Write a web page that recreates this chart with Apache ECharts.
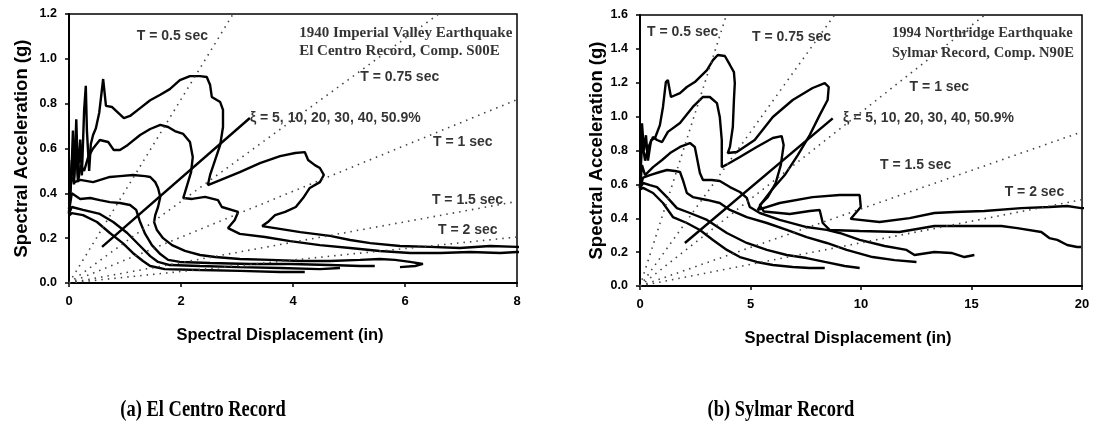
<!DOCTYPE html>
<html lang="en">
<head>
<meta charset="UTF-8">
<title>Capacity spectra - El Centro and Sylmar</title>
<script src="https://cdn.jsdelivr.net/npm/echarts/dist/echarts.min.js"></script>
<style>
  html, body { margin: 0; background: #fff; }
  #chart { width: 1093px; height: 437px; }
</style>
</head>
<body>
<div id="chart"></div>
<script>
// ---- data: [Sd (in), Sa (g)] ----
var damping = ['5%', '10%', '20%', '30%', '40%', '50.9%'];

// (a) El Centro record
var elCentro5 = [[0,0.31],[0.04,0.46],[0.07,0.68],[0.09,0.44],[0.13,0.73],[0.16,0.48],[0.2,0.64],[0.23,0.48],
  [0.27,0.77],[0.3,0.88],[0.32,0.68],[0.36,0.5],[0.39,0.62],[0.43,0.66],[0.48,0.69],[0.54,0.76],[0.61,0.91],
  [0.66,0.79],[0.77,0.785],[0.875,0.76],[0.98,0.735],[1.09,0.745],[1.27,0.78],[1.45,0.815],[1.63,0.84],
  [1.8,0.865],[1.98,0.905],[2.16,0.923],[2.34,0.923],[2.46,0.919],[2.52,0.883],[2.55,0.83],[2.7,0.807],
  [2.75,0.772],[2.75,0.696],[2.7,0.616],[2.61,0.549],[2.52,0.482],[2.48,0.437],[2.7,0.459],[3.05,0.495],
  [3.41,0.535],[3.77,0.566],[4.04,0.58],[4.21,0.584],[4.27,0.549],[4.39,0.526],[4.48,0.513],[4.55,0.482],
  [4.48,0.45],[4.3,0.424],[4.18,0.379],[4.05,0.339],[3.86,0.317],[3.68,0.303],[3.55,0.272],[3.45,0.254],
  [3.68,0.245],[4.13,0.227],[4.66,0.21],[5.02,0.192],[5.38,0.178],[5.91,0.165],[6.45,0.161],[6.98,0.156],
  [7.52,0.165],[8.0,0.161],[8.3,0.16]];
var elCentro10 = [[0,0.31],[0.02,0.415],[0.05,0.55],[0.09,0.47],[0.13,0.59],[0.16,0.45],[0.21,0.525],[0.27,0.5],
  [0.34,0.56],[0.43,0.6],[0.55,0.638],[0.7,0.629],[0.8,0.593],[0.91,0.593],[1.05,0.616],[1.27,0.66],[1.45,0.687],
  [1.63,0.705],[1.77,0.696],[1.89,0.678],[2.04,0.665],[2.16,0.629],[2.21,0.562],[2.18,0.495],[2.11,0.437],
  [2.04,0.379],[2.2,0.375],[2.43,0.384],[2.66,0.37],[2.73,0.339],[3.02,0.317],[2.96,0.281],[2.84,0.245],
  [3.05,0.219],[3.5,0.205],[3.95,0.187],[4.48,0.169],[5.02,0.156],[5.55,0.143],[6.09,0.134],[6.63,0.134],
  [7.16,0.138],[7.7,0.134],[8.0,0.138],[8.3,0.138]];
var elCentro20 = [[0,0.33],[0.03,0.44],[0.06,0.47],[0.1,0.45],[0.2,0.46],[0.43,0.45],[0.73,0.473],[0.91,0.477],
  [1.14,0.482],[1.36,0.477],[1.45,0.473],[1.54,0.45],[1.59,0.424],[1.63,0.384],[1.59,0.339],[1.54,0.303],
  [1.52,0.272],[1.57,0.236],[1.68,0.2],[1.84,0.169],[2.07,0.143],[2.34,0.125],[2.61,0.116],[3.05,0.107],
  [3.59,0.103],[4.13,0.098],[4.66,0.098],[5.2,0.103],[5.55,0.107],[5.82,0.103],[6.09,0.094],[6.32,0.085],
  [6.18,0.076],[5.91,0.071]];
var elCentro30 = [[0,0.32],[0.05,0.4],[0.2,0.375],[0.38,0.379],[0.55,0.37],[0.73,0.361],[0.91,0.357],[1.09,0.348],
  [1.2,0.326],[1.27,0.272],[1.36,0.219],[1.48,0.169],[1.63,0.129],[1.77,0.103],[1.98,0.094],[2.52,0.089],
  [3.23,0.085],[3.95,0.085],[4.66,0.08],[5.2,0.076],[5.46,0.076]];
var elCentro40 = [[0,0.31],[0.05,0.339],[0.25,0.326],[0.55,0.308],[0.79,0.272],[1.04,0.223],[1.27,0.165],
  [1.45,0.12],[1.59,0.094],[1.8,0.08],[2.34,0.076],[3.05,0.071],[3.77,0.067],[4.48,0.062],[4.84,0.067]];
var elCentro51 = [[0,0.3],[0.05,0.312],[0.25,0.303],[0.5,0.272],[0.73,0.223],[0.96,0.178],[1.14,0.134],
  [1.32,0.098],[1.45,0.076],[1.71,0.062],[2.34,0.058],[3.05,0.054],[3.77,0.049],[4.21,0.049]];

// (b) Sylmar record
var sylmar5 = [[0,0.58],[0.09,0.96],[0.18,0.8],[0.27,0.89],[0.36,0.74],[0.5,0.86],[0.68,0.874],[0.9,0.95],
  [1.04,1.057],[1.17,1.204],[1.26,1.216],[1.4,1.116],[1.49,1.116],[1.81,1.139],[2.12,1.175],[2.48,1.204],
  [3.03,1.275],[3.3,1.334],[3.52,1.364],[3.84,1.358],[4.07,1.305],[4.25,1.263],[4.29,1.198],[4.25,1.098],
  [4.2,0.939],[4.07,0.821],[3.97,0.785],[4.38,0.791],[5.19,0.862],[6.01,0.998],[6.91,1.098],[7.81,1.169],
  [8.36,1.198],[8.54,1.175],[8.49,1.098],[8.13,1.009],[7.68,0.891],[7.14,0.773],[6.55,0.655],[5.96,0.567],
  [5.51,0.49],[5.33,0.449],[6.32,0.49],[7.81,0.525],[9.03,0.537],[9.94,0.537],[9.99,0.466],[9.53,0.396],
  [10.84,0.378],[12.2,0.401],[13.32,0.431],[14.23,0.437],[15.58,0.443],[17.25,0.46],[18.52,0.466],
  [19.33,0.472],[19.96,0.46],[20.5,0.46]];
var sylmar10 = [[0,0.58],[0.09,0.86],[0.23,0.74],[0.36,0.815],[0.59,0.88],[0.77,0.862],[1.0,0.85],[1.26,0.91],
  [1.81,0.962],[2.39,1.057],[2.85,1.116],[3.16,1.116],[3.48,1.08],[3.61,0.998],[3.7,0.862],[3.7,0.702],
  [3.97,0.72],[4.52,0.762],[5.28,0.821],[6.01,0.874],[6.41,0.885],[6.5,0.832],[6.37,0.714],[6.14,0.608],
  [5.78,0.525],[5.42,0.478],[5.6,0.44],[6.78,0.425],[7.68,0.443],[8.13,0.449],[8.27,0.372],[8.58,0.331],
  [9.94,0.325],[11.74,0.319],[13.32,0.354],[14.9,0.354],[16.35,0.354],[17.07,0.342],[18.16,0.319],
  [18.52,0.283],[18.88,0.272],[19.33,0.242],[19.78,0.23],[19.96,0.23]];
var sylmar20 = [[0,0.58],[0.09,0.714],[0.23,0.655],[0.59,0.702],[1.0,0.744],[1.36,0.785],[1.81,0.821],
  [2.26,0.844],[2.48,0.821],[2.57,0.762],[2.71,0.667],[2.85,0.626],[3.25,0.626],[3.61,0.62],[4.07,0.584],
  [4.52,0.555],[4.83,0.52],[4.97,0.466],[5.42,0.431],[6.32,0.39],[7.54,0.348],[8.45,0.331],[9.03,0.313],
  [9.94,0.272],[11.07,0.236],[12.06,0.213],[12.42,0.183],[13.32,0.201],[14.09,0.195],[14.68,0.171],[15.13,0.183]];
var sylmar30 = [[0,0.58],[0.14,0.64],[0.45,0.655],[0.9,0.673],[1.22,0.685],[1.58,0.679],[1.81,0.673],
  [1.94,0.626],[2.12,0.549],[2.39,0.525],[3.03,0.508],[3.61,0.49],[4.07,0.449],[4.83,0.407],[5.74,0.372],
  [6.64,0.331],[7.54,0.289],[8.45,0.254],[9.35,0.213],[10.52,0.171],[11.52,0.153],[12.51,0.142]];
var sylmar40 = [[0,0.58],[0.14,0.608],[0.45,0.596],[0.77,0.584],[1.22,0.525],[1.67,0.46],[2.26,0.431],
  [3.03,0.39],[3.93,0.313],[4.83,0.254],[5.74,0.213],[6.64,0.183],[7.54,0.165],[8.36,0.142],[9.26,0.118],
  [9.94,0.106]];
var sylmar51 = [[0,0.57],[0.14,0.579],[0.59,0.549],[1.04,0.49],[1.49,0.407],[2.12,0.372],[2.71,0.331],
  [3.3,0.272],[3.93,0.213],[4.52,0.171],[5.28,0.142],[6.01,0.124],[6.91,0.112],[7.68,0.106],[8.36,0.106]];

// constant-period radial lines, end points where they leave the frame
var periods = ['0.5', '0.75', '1', '1.5', '2'];
var elCentroPeriodEnds = [[2.93,1.2],[6.6,1.2],[8,0.818],[8,0.364],[8,0.205]];
var sylmarPeriodEnds = [[3.91,1.6],[8.8,1.6],[15.6,1.6],[20,0.91],[20,0.51]];

// leader line to the damping note
var elCentroPointer = [[0.59,0.161],[3.23,0.736]];
var sylmarPointer = [[2.03,0.254],[8.72,0.99]];

// notes placed in data units (left edge of text)
var elCentroNotes = [[1.21,1.102,'T = 0.5 sec'],[5.2,0.919,'T = 0.75 sec'],[3.23,0.736,'ξ = 5, 10, 20, 30, 40, 50.9%'],
  [6.5,0.629,'T = 1 sec'],[6.48,0.37,'T = 1.5 sec'],[6.59,0.236,'T = 2 sec']];
var elCentroTitle = [[4.11,1.115,'1940 Imperial Valley Earthquake'],[4.11,1.035,'El Centro Record, Comp. S00E']];
var sylmarNotes = [[0.32,1.5,'T = 0.5 sec'],[5.07,1.47,'T = 0.75 sec'],[12.2,1.175,'T = 1 sec'],
  [9.19,0.99,'ξ = 5, 10, 20, 30, 40, 50.9%'],[10.86,0.714,'T = 1.5 sec'],[16.5,0.555,'T = 2 sec']];
var sylmarTitle = [[11.4,1.494,'1994 Northridge Earthquake'],[11.4,1.375,'Sylmar Record, Comp. N90E']];

var xTicksLeft = [0, 8, 2];      // min, max, step
var yTicksLeft = [0, 1.2, 0.2];
var xTicksRight = [0, 20, 5];
var yTicksRight = [0, 1.6, 0.2];

// ---- chart ----
var SANS = '"Liberation Sans", Arial, sans-serif';
var SERIF = '"Liberation Serif", "Times New Roman", serif';

var chart = echarts.init(document.getElementById('chart'));

function curve(data, i) {
  return {
    type: 'line', xAxisIndex: i, yAxisIndex: i, data: data,
    showSymbol: false, symbol: 'none', smooth: false, clip: true,
    lineStyle: { color: '#000', width: 2.4 }, silent: true
  };
}
function periodLine(end, i) {
  return {
    type: 'line', xAxisIndex: i, yAxisIndex: i, data: [[0, 0], end],
    symbol: 'none', clip: true, silent: true,
    lineStyle: { color: '#444', width: 1.6, type: [1.5, 5] }
  };
}
function notes(list, i, font, size) {
  return {
    type: 'scatter', xAxisIndex: i, yAxisIndex: i, symbolSize: 0, silent: true,
    data: list.map(function (n) { return { value: [n[0], n[1]], name: n[2] }; }),
    label: {
      show: true, position: 'right', distance: 0, formatter: '{b}',
      color: '#000', fontFamily: font, fontWeight: 'bold', fontSize: size
    }
  };
}
function xAxis(i, t) {
  return {
    type: 'value', gridIndex: i, min: t[0], max: t[1], interval: t[2],
    name: 'Spectral Displacement (in)', nameLocation: 'middle', nameGap: 44,
    nameTextStyle: { color: '#000', fontFamily: SANS, fontWeight: 'bold', fontSize: 16.5, padding: [0, 26, 0, 0] },
    axisLine: { lineStyle: { color: '#000', width: 2 } },
    axisTick: { show: true, length: 4, lineStyle: { color: '#000', width: 1.5 } },
    axisLabel: { color: '#000', fontFamily: SANS, fontWeight: 'bold', fontSize: 13, margin: 12 },
    splitLine: { show: false }
  };
}
function yAxis(i, t, gap) {
  return {
    type: 'value', gridIndex: i, min: t[0], max: t[1], interval: t[2],
    name: 'Spectral Acceleration (g)', nameLocation: 'middle', nameGap: gap,
    nameTextStyle: { color: '#000', fontFamily: SANS, fontWeight: 'bold', fontSize: 18.5 },
    axisLine: { lineStyle: { color: '#000', width: 2 } },
    axisTick: { show: true, length: 4, lineStyle: { color: '#000', width: 1.5 } },
    axisLabel: { color: '#000', fontFamily: SANS, fontWeight: 'bold', fontSize: 12.5, margin: 12,
      formatter: function (v) { return v.toFixed(1); } },
    splitLine: { show: false }
  };
}

var series = [];
[elCentro5, elCentro10, elCentro20, elCentro30, elCentro40, elCentro51].forEach(function (d) { series.push(curve(d, 0)); });
[sylmar5, sylmar10, sylmar20, sylmar30, sylmar40, sylmar51].forEach(function (d) { series.push(curve(d, 1)); });
elCentroPeriodEnds.forEach(function (e) { series.push(periodLine(e, 0)); });
sylmarPeriodEnds.forEach(function (e) { series.push(periodLine(e, 1)); });
series.push(curve(elCentroPointer, 0), curve(sylmarPointer, 1));
series.push(notes(elCentroNotes, 0, SANS, 14), notes(sylmarNotes, 1, SANS, 14));
series.push(notes(elCentroTitle, 0, SERIF, 15), notes(sylmarTitle, 1, SERIF, 14.6));

chart.setOption({
  animation: false,
  backgroundColor: '#fff',
  grid: [
    { left: 69, top: 14, width: 448, height: 269, show: true, borderColor: '#000', borderWidth: 1.5 },
    { left: 640, top: 15, width: 442, height: 271, show: true, borderColor: '#000', borderWidth: 1.5 }
  ],
  xAxis: [xAxis(0, xTicksLeft), xAxis(1, xTicksRight)],
  yAxis: [yAxis(0, yTicksLeft, 38), yAxis(1, yTicksRight, 34)],
  series: series,
  graphic: [
    { type: 'text', x: 203, y: 410, scaleX: 0.77, style: { text: '(a) El Centro Record', fill: '#000',
      font: 'bold 24px ' + SERIF, textAlign: 'center', textVerticalAlign: 'middle' } },
    { type: 'text', x: 781, y: 410, scaleX: 0.77, style: { text: '(b) Sylmar Record', fill: '#000',
      font: 'bold 24px ' + SERIF, textAlign: 'center', textVerticalAlign: 'middle' } }
  ]
});
</script>
</body>
</html>
